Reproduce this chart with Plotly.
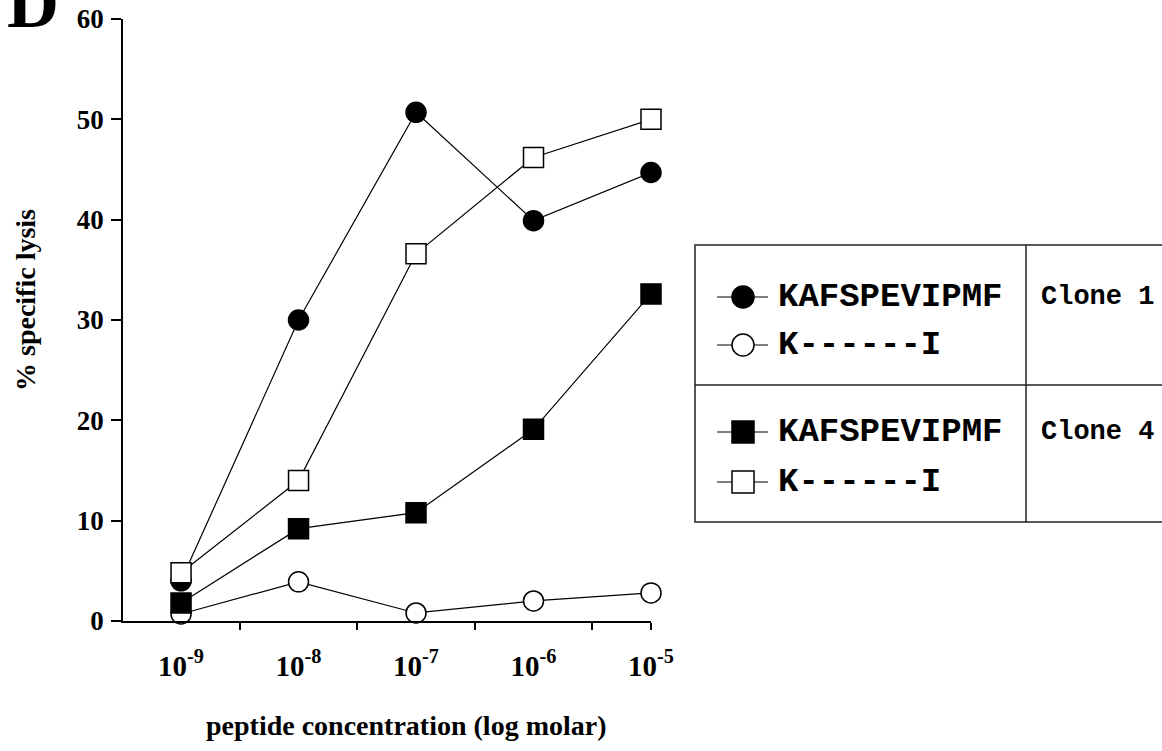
import plotly.graph_objects as go

# ---- data ----
conc_exp = [-9, -8, -7, -6, -5]
conc_labels = ["10<sup>-9</sup>", "10<sup>-8</sup>", "10<sup>-7</sup>", "10<sup>-6</sup>", "10<sup>-5</sup>"]
clone1_kaf = [4.0, 30.0, 50.7, 39.9, 44.7]
clone1_ki = [0.7, 3.9, 0.8, 2.0, 2.8]
clone4_kaf = [1.8, 9.2, 10.8, 19.1, 32.6]
clone4_ki = [4.8, 14.0, 36.6, 46.2, 50.0]
y_ticks = [0, 10, 20, 30, 40, 50, 60]

legend_labels = ["KAFSPEVIPMF", "K------I", "KAFSPEVIPMF", "K------I"]
clone_labels = ["Clone 1", "Clone 4"]

SERIF = "Liberation Serif"
MONO = "Liberation Mono"
W, H = 1162, 751

styles = {
    "c1kaf": dict(symbol="circle", color="black"),
    "c1ki": dict(symbol="circle", color="white"),
    "c4kaf": dict(symbol="square", color="black"),
    "c4ki": dict(symbol="square", color="white"),
}

fig = go.Figure()

def add_series(y, st):
    fig.add_trace(go.Scatter(
        x=conc_exp, y=y, mode="lines+markers", cliponaxis=False,
        line=dict(color="black", width=1.2),
        marker=dict(symbol=st["symbol"], size=20, color=st["color"],
                    line=dict(color="black", width=1.5)),
        showlegend=False, hoverinfo="skip"))

add_series(clone1_ki, styles["c1ki"])
add_series(clone1_kaf, styles["c1kaf"])
add_series(clone4_kaf, styles["c4kaf"])
add_series(clone4_ki, styles["c4ki"])

# ---- custom legend table (full-page pixel axes) ----
row_y = [297, 345, 432, 482]
row_styles = [styles["c1kaf"], styles["c1ki"], styles["c4kaf"], styles["c4ki"]]
for ry, st in zip(row_y, row_styles):
    fig.add_trace(go.Scatter(
        x=[717, 768], y=[ry, ry], xaxis="x2", yaxis="y2", mode="lines",
        line=dict(color="black", width=1.2), showlegend=False, hoverinfo="skip"))
    fig.add_trace(go.Scatter(
        x=[743], y=[ry], xaxis="x2", yaxis="y2", mode="markers",
        marker=dict(symbol=st["symbol"], size=22, color=st["color"],
                    line=dict(color="black", width=1.5)),
        showlegend=False, hoverinfo="skip"))

annotations = []
for ry, lab in zip(row_y, legend_labels):
    annotations.append(dict(x=776, y=ry, xref="x2", yref="y2", text=lab, showarrow=False,
                            xanchor="left", yanchor="middle",
                            font=dict(family=MONO, size=34, color="black", weight="bold")))
for ry, lab in zip([297, 432], clone_labels):
    annotations.append(dict(x=1039, y=ry, xref="x2", yref="y2", text=lab, showarrow=False,
                            xanchor="left", yanchor="middle",
                            font=dict(family=MONO, size=27, color="black", weight="bold")))

# axis titles and panel letter
annotations.append(dict(x=406, y=725, xref="x2", yref="y2", text="peptide concentration (log molar)",
                        showarrow=False, xanchor="center", yanchor="middle",
                        font=dict(family=SERIF, size=28, color="black", weight="bold")))
annotations.append(dict(x=25, y=300, xref="x2", yref="y2", text="% specific lysis", textangle=-90,
                        showarrow=False, xanchor="center", yanchor="middle",
                        font=dict(family=SERIF, size=28, color="black", weight="bold")))
annotations.append(dict(x=5, y=45, xref="x2", yref="y2", text="D", showarrow=False,
                        xanchor="left", yanchor="bottom",
                        font=dict(family=SERIF, size=72, color="black", weight="bold")))

shapes = [
    dict(type="rect", xref="x2", yref="y2", x0=695, x1=1175, y0=245, y1=522,
         line=dict(color="#222", width=1.5)),
    dict(type="line", xref="x2", yref="y2", x0=695, x1=1175, y0=385, y1=385,
         line=dict(color="#222", width=1.5)),
    dict(type="line", xref="x2", yref="y2", x0=1026, x1=1026, y0=245, y1=522,
         line=dict(color="#222", width=1.5)),
]

fig.update_layout(
    width=W, height=H, margin=dict(l=0, r=0, t=0, b=0, autoexpand=False),
    paper_bgcolor="white", plot_bgcolor="rgba(0,0,0,0)",
    showlegend=False,
    xaxis=dict(domain=[123 / W, 651 / W], range=[-9.494, -5.0], automargin=False,
               tickvals=conc_exp, ticktext=conc_labels, ticks="",
               showline=True, linecolor="black", linewidth=1.5,
               showgrid=False, zeroline=False, ticklabelstandoff=18,
               tickfont=dict(family=SERIF, size=29, color="black", weight="bold"),
               minor=dict(tickvals=[-8.5, -7.5, -6.5, -5.5, -5.0], ticks="outside",
                          ticklen=7, tickwidth=1.5, tickcolor="black", showgrid=False)),
    yaxis=dict(domain=[1 - 621 / H, 1 - 19 / H], range=[0, 60], automargin=False,
               tickvals=y_ticks, ticks="outside", ticklen=10, tickwidth=1.5, tickcolor="black",
               showline=True, linecolor="black", linewidth=1.5,
               showgrid=False, zeroline=False, ticklabelstandoff=2,
               tickfont=dict(family=SERIF, size=27, color="black", weight="bold")),
    xaxis2=dict(domain=[0, 1], range=[0, W], visible=False, showticklabels=False,
                automargin=False, anchor="y2"),
    yaxis2=dict(domain=[0, 1], range=[H, 0], visible=False, showticklabels=False,
                automargin=False, anchor="x2"),
    annotations=annotations,
    shapes=shapes,
)

fig.write_html("out.html")
